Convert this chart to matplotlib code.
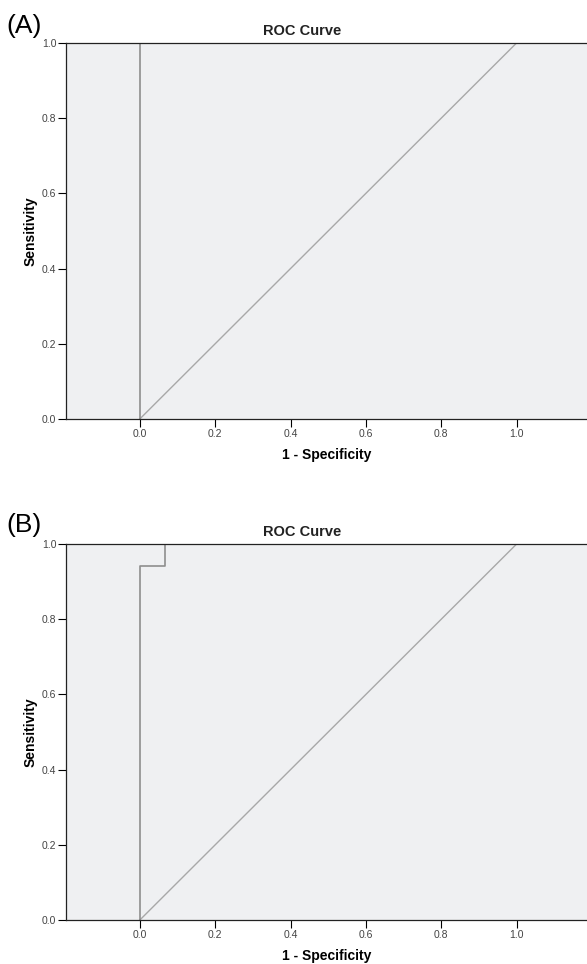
import matplotlib
matplotlib.use('Agg')
import matplotlib.pyplot as plt

plt.rcParams['font.family'] = ['Liberation Sans', 'DejaVu Sans']

# ROC points (1 - specificity, sensitivity)
fpr_a = [0.0, 0.0, 1.0]
tpr_a = [0.0, 1.0, 1.0]
fpr_b = [0.0, 0.0, 0.0667, 0.0667, 1.0]
tpr_b = [0.0, 0.941, 0.941, 1.0, 1.0]
ref_line = [0.0, 1.0]
ticks = [0.0, 0.2, 0.4, 0.6, 0.8, 1.0]
panel_labels = ['(A)', '(B)']

fig = plt.figure(figsize=(5.87, 9.64), dpi=100)

def panel(rect, fpr, tpr, lab, lab_y):
    ax = fig.add_axes(rect)
    ax.set_facecolor('#eff0f2')
    ax.plot(ref_line, ref_line, color='#a8a8a8', lw=1.0)
    ax.plot(fpr, tpr, color='#8e8e8e', lw=1.2)
    ax.set_xlim(-0.196, 1.187)
    ax.set_ylim(0, 1)
    ax.set_xticks(ticks)
    ax.set_yticks(ticks)
    ax.set_xticklabels(['%.1f' % t for t in ticks])
    ax.set_yticklabels(['%.1f' % t for t in ticks])
    ax.tick_params(length=6, width=0.8, labelsize=7.5, labelcolor='#444444', pad=1)
    for s in ['left', 'bottom', 'top']:
        ax.spines[s].set_color('#222222')
        ax.spines[s].set_linewidth(0.9)
    ax.spines['right'].set_visible(False)
    ax.set_xlabel('1 - Specificity', fontsize=10, fontweight='bold', labelpad=7)
    ax.set_ylabel('Sensitivity', fontsize=10, fontweight='bold', labelpad=3)
    ax.text(0.453, 1.033, 'ROC Curve', transform=ax.transAxes, fontsize=10.5,
            fontweight='bold', ha='center', va='center', color='#222222')
    fig.text(0.011, lab_y, lab, fontsize=19, va='center', ha='left')
    return ax

panel([0.1124, 0.5654, 0.8876, 0.39], fpr_a, tpr_a, panel_labels[0], 0.973)
panel([0.1124, 0.0456, 0.8876, 0.39], fpr_b, tpr_b, panel_labels[1], 0.455)

fig.savefig('out.png', dpi=100)
